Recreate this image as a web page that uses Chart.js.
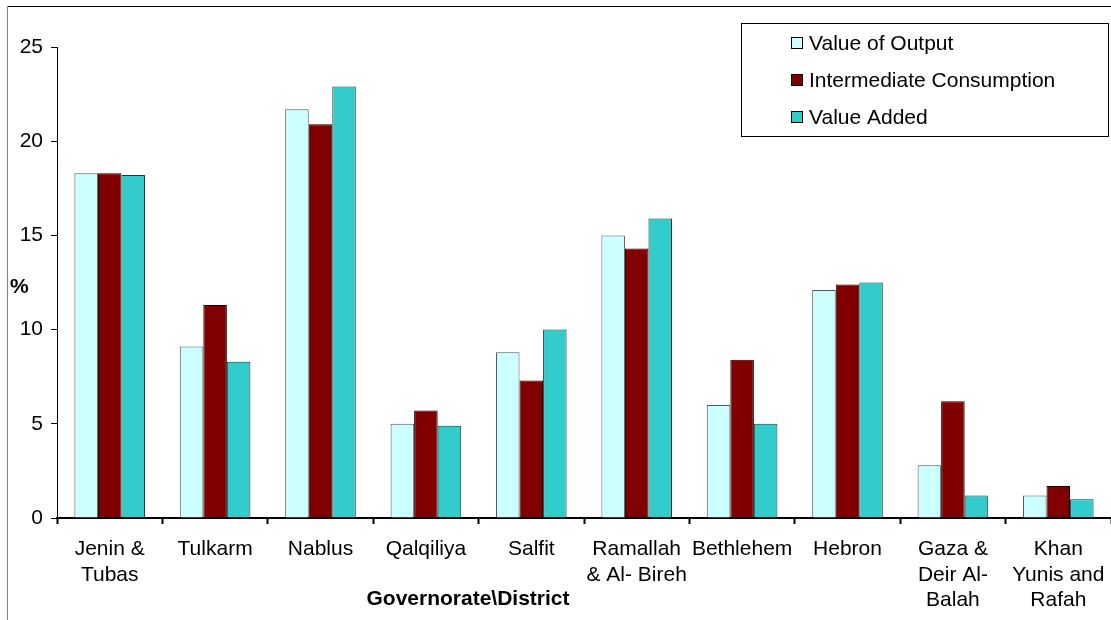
<!DOCTYPE html>
<html>
<head>
<meta charset="utf-8">
<script src="https://cdn.jsdelivr.net/npm/chart.js@4/dist/chart.umd.min.js"></script>
<style>
  html, body { margin: 0; padding: 0; background: #fff; }
  #wrap { width: 1111px; height: 620px; }
</style>
</head>
<body>
<div id="wrap"><canvas id="govChart" width="1111" height="620"></canvas></div>
<script>
// data
var districts = [
    ["Jenin &", "Tubas"], "Tulkarm", "Nablus", "Qalqiliya", "Salfit",
    ["Ramallah", "& Al- Bireh"], "Bethlehem", "Hebron",
    ["Gaza &", "Deir Al-", "Balah"], ["Khan", "Yunis and", "Rafah"]
];
var valueOfOutput = [18.3, 9.1, 21.7, 5.0, 8.8, 15.0, 6.0, 12.1, 2.8, 1.2];
var intermediateConsumption = [18.3, 11.3, 20.9, 5.7, 7.3, 14.3, 8.4, 12.4, 6.2, 1.7];
var valueAdded = [18.2, 8.3, 22.9, 4.9, 10.0, 15.9, 5.0, 12.5, 1.2, 1.0];
var yTicks = [0, 5, 10, 15, 20, 25];

var FONT = "'Liberation Sans', Arial, sans-serif";

// frame, axis titles and boxed legend
var extras = {
    id: "extras",
    afterDraw: function (chart) {
        var ctx = chart.ctx;
        ctx.save();

        // chart frame (top + left edge)
        ctx.strokeStyle = "#000";
        ctx.lineWidth = 1;
        ctx.beginPath();
        ctx.moveTo(7, 6.5);
        ctx.lineTo(1111, 6.5);
        ctx.stroke();
        ctx.strokeStyle = "#808080";
        ctx.beginPath();
        ctx.moveTo(7.5, 6);
        ctx.lineTo(7.5, 620);
        ctx.stroke();

        // axis titles
        ctx.fillStyle = "#000";
        ctx.font = "bold 21px " + FONT;
        ctx.textBaseline = "middle";
        ctx.textAlign = "left";
        ctx.fillText("%", 10, 287);
        ctx.textAlign = "center";
        ctx.fillText("Governorate\\District", 468, 599);

        // legend
        ctx.strokeStyle = "#000";
        ctx.strokeRect(741.5, 23.5, 367, 113);
        ctx.font = "21px " + FONT;
        ctx.textAlign = "left";
        chart.data.datasets.forEach(function (ds, i) {
            var y = 43 + i * 37;
            ctx.fillStyle = ds.backgroundColor;
            ctx.fillRect(791.5, y - 5.5, 11, 11);
            ctx.strokeStyle = "#000";
            ctx.strokeRect(791.5, y - 5.5, 11, 11);
            ctx.fillStyle = "#000";
            ctx.fillText(ds.label, 809, y + 1);
        });
        ctx.restore();
    }
};

var ctx = document.getElementById("govChart").getContext("2d");
new Chart(ctx, {
    type: "bar",
    data: {
        labels: districts,
        datasets: [
            {
                label: "Value of Output",
                data: valueOfOutput,
                backgroundColor: "#CCFFFF",
                borderColor: "#555555",
                borderWidth: 1
            },
            {
                label: "Intermediate Consumption",
                data: intermediateConsumption,
                backgroundColor: "#800000",
                borderColor: "#000000",
                borderWidth: 1
            },
            {
                label: "Value Added",
                data: valueAdded,
                backgroundColor: "#33CCCC",
                borderColor: "#333333",
                borderWidth: 1
            }
        ]
    },
    options: {
        responsive: false,
        animation: false,
        layout: { padding: { left: 0, top: 47, right: -3, bottom: 0 } },
        datasets: {
            bar: { barPercentage: 1.0, categoryPercentage: 0.67 }
        },
        plugins: {
            legend: { display: false },
            tooltip: { enabled: false }
        },
        scales: {
            x: {
                grid: {
                    offset: true,
                    drawOnChartArea: false,
                    drawTicks: true,
                    tickLength: 6,
                    tickWidth: 2,
                    tickColor: "#000"
                },
                border: { display: true, color: "#000", width: 2 },
                ticks: {
                    color: "#000",
                    font: { family: FONT, size: 21, lineHeight: 1.2 },
                    padding: 13,
                    maxRotation: 0,
                    autoSkip: false
                },
                afterFit: function (scale) {
                    scale.height = 102;
                    scale.paddingLeft = 0;
                    scale.paddingRight = 0;
                }
            },
            y: {
                min: 0,
                max: 25,
                afterBuildTicks: function (scale) {
                    scale.ticks = yTicks.map(function (v) { return { value: v }; });
                },
                grid: {
                    drawOnChartArea: false,
                    drawTicks: true,
                    tickLength: 6,
                    tickColor: "#000"
                },
                border: { display: true, color: "#000", width: 1 },
                ticks: {
                    color: "#000",
                    font: { family: FONT, size: 21 },
                    padding: 8
                },
                afterFit: function (scale) {
                    scale.width = 57;
                    scale.paddingTop = 0;
                    scale.paddingBottom = 0;
                }
            }
        }
    },
    plugins: [extras]
});
</script>
</body>
</html>
